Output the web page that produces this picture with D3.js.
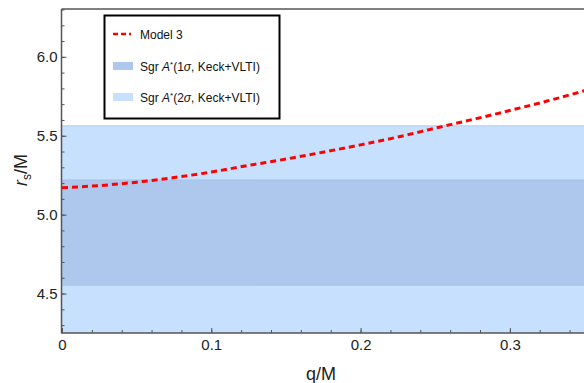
<!DOCTYPE html>
<html>
<head>
<meta charset="utf-8">
<script src="https://cdn.jsdelivr.net/npm/d3@7"></script>
<style>
body { margin: 0; background: #fff; }
text { font-family: "Liberation Sans", Arial, sans-serif; }
</style>
</head>
<body>
<div id="chart"></div>
<script>
var width = 584;
var height = 383;

// Model 3 curve
var qValues = [0, 0.025, 0.05, 0.075, 0.1, 0.125, 0.15, 0.175, 0.2, 0.225, 0.25, 0.275, 0.3, 0.325, 0.35];
var rsValues = [5.171, 5.184, 5.206, 5.235, 5.270, 5.312, 5.352, 5.396, 5.442, 5.492, 5.548, 5.603, 5.660, 5.720, 5.785];

// Sgr A* bounds
var band1sigma = [4.553, 5.22];
var band2sigma = [4.21, 5.563];

var xMajor = [0, 0.1, 0.2, 0.3];
var xMinor = d3.range(0, 0.36, 0.02);
var yMajor = [4.5, 5.0, 5.5, 6.0];
var yMinor = d3.range(4.3, 6.31, 0.1);

var legendLabels = ["Model 3", "Sgr A*(1σ, Keck+VLTI)", "Sgr A*(2σ, Keck+VLTI)"];

var plotLeft = 61.5, plotTop = 9, plotBottom = 333, plotRight = 584.5;

var x = d3.scaleLinear().domain([0, 0.35]).range([plotLeft + 0.5, plotRight]);
var y = d3.scaleLinear().domain([4.25, 6.3]).range([plotBottom, plotTop + 0.5]);

var svg = d3.select("#chart").append("svg").attr("width", width).attr("height", height);

svg.append("defs").append("clipPath").attr("id", "plotclip")
	.append("rect").attr("x", plotLeft).attr("y", plotTop).attr("width", plotRight - plotLeft).attr("height", plotBottom - plotTop);

var plot = svg.append("g").attr("clip-path", "url(#plotclip)");

plot.append("rect")
	.attr("x", x(0)).attr("width", x(0.35) - x(0))
	.attr("y", y(band2sigma[1])).attr("height", y(band2sigma[0]) - y(band2sigma[1]))
	.attr("fill", "#c6e0fd");
plot.append("rect")
	.attr("x", x(0)).attr("width", x(0.35) - x(0))
	.attr("y", y(band1sigma[1])).attr("height", y(band1sigma[0]) - y(band1sigma[1]))
	.attr("fill", "#adc8ec");
// faint edges of the bands
[band1sigma[0], band1sigma[1], band2sigma[1]].forEach(function(v){
	plot.append("line")
		.attr("x1", x(0)).attr("x2", x(0.35))
		.attr("y1", y(v)).attr("y2", y(v))
		.attr("stroke", "#9fbde6").attr("stroke-width", 1).attr("opacity", 0.7);
});

var line = d3.line()
	.x(function(d, i) { return x(qValues[i]); })
	.y(function(d) { return y(d); })
	.curve(d3.curveMonotoneX);

plot.append("path")
	.datum(rsValues)
	.attr("d", line)
	.attr("fill", "none")
	.attr("stroke", "#ff0000")
	.attr("stroke-width", 3)
	.attr("stroke-dasharray", "6,4");

// axes, ticks inward
var axisColor = "#555";
var yMinorAxis = svg.append("g").attr("transform", "translate(" + plotLeft + ",0)")
	.call(d3.axisLeft(y).tickValues(yMinor).tickSize(-3).tickFormat(""));
var yAxis = svg.append("g").attr("transform", "translate(" + plotLeft + ",0)")
	.call(d3.axisLeft(y).tickValues(yMajor).tickSize(-5).tickPadding(4).tickFormat(d3.format(".1f")));
var xMinorAxis = svg.append("g").attr("transform", "translate(0," + plotBottom + ")")
	.call(d3.axisBottom(x).tickValues(xMinor).tickSize(-3).tickFormat(""));
var xAxis = svg.append("g").attr("transform", "translate(0," + plotBottom + ")")
	.call(d3.axisBottom(x).tickValues(xMajor).tickSize(-5).tickPadding(6)
		.tickFormat(function(d) { return d === 0 ? "0" : d3.format(".1f")(d); }));

[yMinorAxis, yAxis, xMinorAxis, xAxis].forEach(function(g){
	g.selectAll("path").remove();
	g.selectAll("line").attr("stroke", axisColor);
	g.selectAll("text").attr("fill", "#222").style("font-size", "15px").style("font-family", "'Liberation Sans', Arial, sans-serif");
});

svg.append("line").attr("x1", plotLeft).attr("x2", plotLeft).attr("y1", plotTop).attr("y2", plotBottom + 0.5)
	.attr("stroke", axisColor).attr("stroke-width", 1.5);
svg.append("line").attr("x1", plotLeft).attr("x2", plotRight).attr("y1", plotBottom).attr("y2", plotBottom)
	.attr("stroke", axisColor).attr("stroke-width", 1.5);
svg.append("line").attr("x1", plotLeft).attr("x2", plotRight).attr("y1", plotTop).attr("y2", plotTop)
	.attr("stroke", axisColor).attr("stroke-width", 1.5);

// axis titles
svg.append("text")
	.attr("x", 321).attr("y", 380)
	.attr("text-anchor", "middle")
	.style("font-size", "18px").attr("fill", "#222")
	.text("q/M");

var ylab = svg.append("text")
	.attr("transform", "translate(27,170) rotate(-90)")
	.attr("text-anchor", "middle")
	.style("font-size", "18px").attr("fill", "#222");
ylab.append("tspan").style("font-style", "italic").text("r");
ylab.append("tspan").attr("dy", 4).style("font-size", "12px").text("s");
ylab.append("tspan").attr("dy", -4).text("/M");

// legend
var legend = svg.append("g");
legend.append("rect")
	.attr("x", 104.5).attr("y", 15.5).attr("width", 175).attr("height", 103)
	.attr("fill", "#fff").attr("stroke", "#000").attr("stroke-width", 2);

legend.append("line")
	.attr("x1", 113).attr("x2", 131).attr("y1", 34).attr("y2", 34)
	.attr("stroke", "#ff0000").attr("stroke-width", 2.5).attr("stroke-dasharray", "5,3");
legend.append("rect").attr("x", 113).attr("y", 62).attr("width", 20).attr("height", 8).attr("fill", "#adc8ec");
legend.append("rect").attr("x", 113).attr("y", 93).attr("width", 20).attr("height", 8).attr("fill", "#c6e0fd");

var legY = [39, 71, 102];
legendLabels.forEach(function(lbl, i){
	var t = legend.append("text").attr("x", 140).attr("y", legY[i])
		.style("font-size", "12px").attr("fill", "#111");
	if (i === 0) { t.text(lbl); return; }
	t.append("tspan").text("Sgr ");
	t.append("tspan").style("font-style", "italic").text("A");
	t.append("tspan").attr("dy", -4).style("font-size", "8px").text("*");
	t.append("tspan").attr("dy", 4).text("(" + (i === 1 ? "1" : "2"));
	t.append("tspan").style("font-style", "italic").text("σ");
	t.append("tspan").text(", Keck+VLTI)");
});
</script>
</body>
</html>
